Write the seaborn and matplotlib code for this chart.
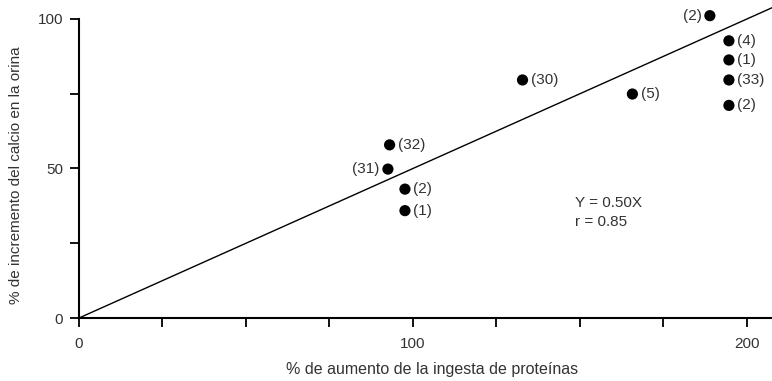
import matplotlib
matplotlib.use("Agg")
import matplotlib.pyplot as plt
import seaborn as sns
import numpy as np

# protein intake increase (%) vs urinary calcium increase (%)
PROTEIN = [93, 92.5, 97.6, 97.6, 132.8, 165.7, 188.9, 194.6, 194.6, 194.6, 194.6]
CALCIUM = [57.9, 49.8, 43.1, 35.9, 79.6, 74.9, 101.1, 92.7, 86.3, 79.6, 71.1]
STUDY = ["(32)", "(31)", "(2)", "(1)", "(30)", "(5)", "(2)", "(4)", "(1)", "(33)", "(2)"]
LABEL_LEFT = [False, True, False, False, False, False, True, False, False, False, False]

SLOPE = 0.50
R_VALUE = 0.85
X_MAX = 207.5
Y_MAX = 104

TEXT_COLOR = "#333333"


def main():
    sns.set_style("white")
    plt.rcParams["font.family"] = ["Liberation Sans", "DejaVu Sans"]

    fig = plt.figure(figsize=(7.72, 3.81), dpi=100)
    ax = fig.add_axes([79 / 772, 1 - 318 / 381, 1 - 79 / 772, (318 - 7) / 381])

    # fitted line through the origin
    line_x = np.array([0, X_MAX])
    sns.lineplot(x=line_x, y=SLOPE * line_x, color="black", linewidth=1.0, ax=ax)

    sns.scatterplot(x=PROTEIN, y=CALCIUM, color="black", s=65,
                    edgecolor="none", ax=ax, clip_on=False, zorder=3)

    for x, y, lab, left in zip(PROTEIN, CALCIUM, STUDY, LABEL_LEFT):
        off = (-6, 0) if left else (6, 0)
        ha = "right" if left else "left"
        ax.annotate(lab, (x, y), xytext=off, textcoords="offset points",
                    ha=ha, va="center", fontsize=11, color=TEXT_COLOR)

    ax.text(148.5, 38.5, f"Y = {SLOPE:.2f}X", fontsize=11, color=TEXT_COLOR,
            va="center")
    ax.text(148.5, 32.0, f"r = {R_VALUE:.2f}", fontsize=11, color=TEXT_COLOR,
            va="center")

    ax.set_xlim(0, X_MAX)
    ax.set_ylim(0, Y_MAX)
    ax.set_xticks(np.arange(0, 201, 25))
    ax.set_xticklabels(["0", "", "", "", "100", "", "", "", "200"])
    ax.set_yticks([0, 25, 50, 75, 100])
    ax.set_yticklabels(["0", "", "50", "", "100"])

    for side in ["top", "right"]:
        ax.spines[side].set_visible(False)
    ax.spines["left"].set_bounds(0, 100)
    for side in ["left", "bottom"]:
        ax.spines[side].set_linewidth(1.5)
        ax.spines[side].set_color("black")

    ax.tick_params(axis="both", direction="out", length=6.5, width=1.3,
                   color="black", labelcolor=TEXT_COLOR, labelsize=11)
    ax.tick_params(axis="x", pad=7)
    ax.tick_params(axis="y", pad=5)
    ax.tick_params(left=True, bottom=True)

    ax.set_xlabel("% de aumento de la ingesta de proteínas", fontsize=11.5,
                  color=TEXT_COLOR)
    ax.set_ylabel("% de incremento del calcio en la orina", fontsize=11,
                  color=TEXT_COLOR)
    ax.xaxis.set_label_coords((432 - 79) / 693, -(362 - 318) / 311)
    ax.yaxis.set_label_coords(-(79 - 23) / 693, (318 - 175) / 311)

    fig.savefig("out.png", dpi=100)


if __name__ == "__main__":
    main()
